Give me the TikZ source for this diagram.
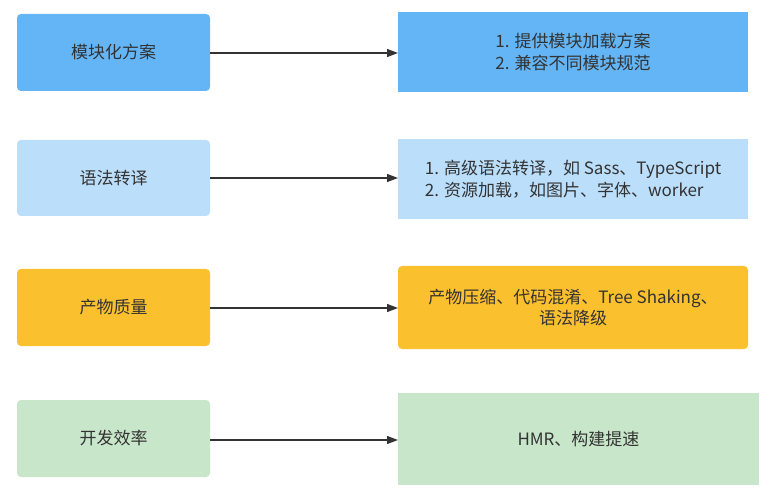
\documentclass[tikz,border=0pt]{standalone}
\usepackage{fontspec}
\setmainfont{Noto Sans CJK SC}
\usetikzlibrary{arrows.meta}
\definecolor{cblue}{HTML}{64B5F6}
\definecolor{clblue}{HTML}{BBDEFB}
\definecolor{cyellow}{HTML}{FBC02D}
\definecolor{cgreen}{HTML}{C8E6C9}
\definecolor{ctext}{HTML}{333333}
\tikzset{
  leftbox/.style={draw=none, text=ctext, font=\fontsize{17}{20}\selectfont},
  rightbox/.style={draw=none, text=ctext, font=\fontsize{17}{21.5}\selectfont, align=center},
  conn/.style={draw=ctext, line width=1.2pt, -{Triangle[length=11pt,width=8pt]}}
}
\begin{document}
\begin{tikzpicture}[x=1pt,y=-1pt]
\useasboundingbox (0,0) rectangle (784,494);
% left boxes
\fill[cblue, rounded corners=4pt] (17,14) rectangle (210,91);
\node[leftbox] (l1) at (113.5,52.5) {模块化方案};
\fill[clblue, rounded corners=4pt] (17,140) rectangle (210,216);
\node[leftbox] (l2) at (113.5,178) {语法转译};
\fill[cyellow, rounded corners=4pt] (17,269) rectangle (210,346);
\node[leftbox] (l3) at (113.5,307.5) {产物质量};
\fill[cgreen, rounded corners=4pt] (17,400) rectangle (210,477);
\node[leftbox] (l4) at (113.5,438.5) {开发效率};
% right boxes
\fill[cblue] (398,12) rectangle (748,92);
\node[rightbox, align=left] (r1) at (573,52) {1. 提供模块加载方案\\2. 兼容不同模块规范};
\fill[clblue] (398,139) rectangle (748,219);
\node[rightbox, align=left] (r2) at (573,179) {1. 高级语法转译，如 Sass、TypeScript\\2. 资源加载，如图片、字体、worker};
\fill[cyellow, rounded corners=4pt] (398,266) rectangle (748,349);
\node[rightbox] (r3) at (573,307.5) {产物压缩、代码混淆、Tree Shaking、\\语法降级};
\fill[cgreen] (398,393) rectangle (759,485);
\node[rightbox] (r4) at (578.5,439) {HMR、构建提速};
% anchors for connectors
\coordinate (a1s) at (210,53); \coordinate (a1e) at (398,53);
\coordinate (a2s) at (210,178); \coordinate (a2e) at (398,178);
\coordinate (a3s) at (210,308); \coordinate (a3e) at (398,308);
\coordinate (a4s) at (210,440); \coordinate (a4e) at (398,440);
\draw[conn] (a1s) -- (a1e);
\draw[conn] (a2s) -- (a2e);
\draw[conn] (a3s) -- (a3e);
\draw[conn] (a4s) -- (a4e);
\end{tikzpicture}
\end{document}
